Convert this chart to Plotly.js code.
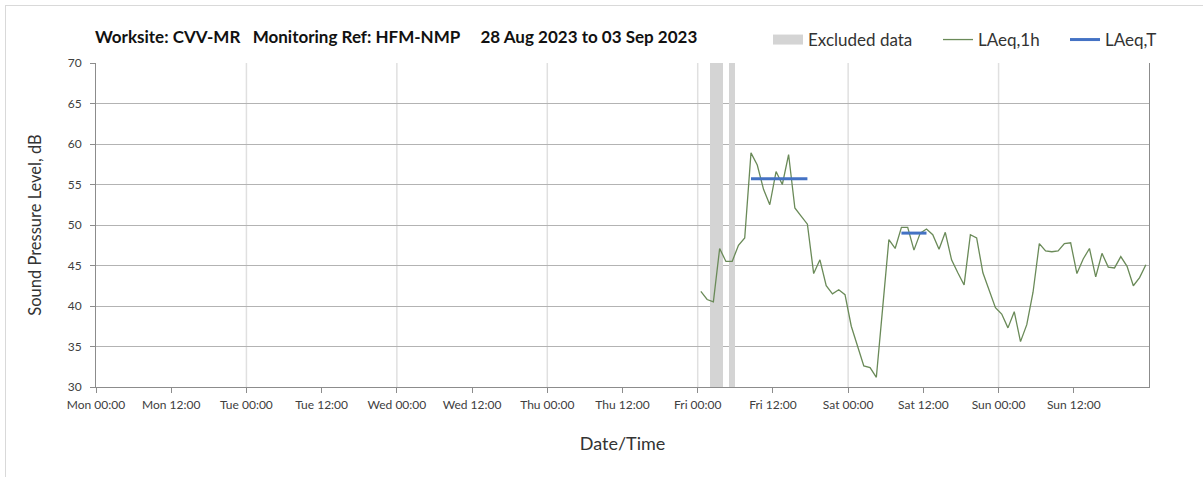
<!DOCTYPE html>
<html>
<head>
<meta charset="utf-8">
<script src="https://cdn.plot.ly/plotly-3.0.1.min.js"></script>
<style>
  html, body { margin: 0; padding: 0; background: #ffffff; overflow: hidden; }
  #frame { position: absolute; left: 5px; top: 5px; width: 1210px; height: 490px; border: 1px solid #d9d9d9; box-sizing: border-box; }
  #chart { position: absolute; left: 0; top: 0; width: 1203px; height: 477px; }
</style>
</head>
<body>
<div id="frame"></div>
<div id="chart"></div>
<script>
// ---- Data ----
const firstHour = "2023-09-01 00:30";   // Fri 00:30, hourly readings
const laeq1h = [
  41.8, 40.8, 40.5, 47.1, 45.5, 45.5, 47.5, 48.4, 58.9, 57.4,
  54.4, 52.5, 56.6, 55.0, 58.7, 52.1, 51.1, 50.1, 44.0, 45.7,
  42.5, 41.5, 42.0, 41.4, 37.5, 35.0, 32.6, 32.4, 31.2, 39.7,
  48.2, 47.1, 49.7, 49.7, 46.9, 49.0, 49.5, 48.8, 47.0, 49.1,
  45.7, 44.1, 42.6, 48.8, 48.4, 44.1, 42.0, 39.8, 39.0, 37.3,
  39.3, 35.6, 37.7, 41.7, 47.7, 46.8, 46.7, 46.8, 47.7, 47.8,
  44.0, 45.8, 47.1, 43.6, 46.5, 44.8, 44.7, 46.1, 44.9, 42.5,
  43.5, 45.1
];
const laeqTStart = ["2023-09-01 08:30", "2023-09-02 08:30"];
const laeqTEnd   = ["2023-09-01 17:30", "2023-09-02 12:30"];
const laeqTValue = [55.7, 49.0];
const excludedStart = ["2023-09-01 02:00", "2023-09-01 05:00"];
const excludedEnd   = ["2023-09-01 04:00", "2023-09-01 06:00"];
const tickTimes = [
  "2023-08-28 00:00", "2023-08-28 12:00", "2023-08-29 00:00", "2023-08-29 12:00",
  "2023-08-30 00:00", "2023-08-30 12:00", "2023-08-31 00:00", "2023-08-31 12:00",
  "2023-09-01 00:00", "2023-09-01 12:00", "2023-09-02 00:00", "2023-09-02 12:00",
  "2023-09-03 00:00", "2023-09-03 12:00"
];
const tickLabels = [
  "Mon 00:00", "Mon 12:00", "Tue 00:00", "Tue 12:00", "Wed 00:00", "Wed 12:00",
  "Thu 00:00", "Thu 12:00", "Fri 00:00", "Fri 12:00", "Sat 00:00", "Sat 12:00",
  "Sun 00:00", "Sun 12:00"
];
const dayLines = ["2023-08-29 00:00", "2023-08-30 00:00", "2023-08-31 00:00",
  "2023-09-01 00:00", "2023-09-02 00:00", "2023-09-03 00:00"];
const rangeStart = "2023-08-28 00:00";
const rangeEnd = "2023-09-04 00:00";
const yTicks = [30, 35, 40, 45, 50, 55, 60, 65, 70];

// ---- Helpers ----
const ms = s => new Date(s.replace(' ', 'T') + ':00Z').getTime();
const HOUR = 3600 * 1000;
const t0 = ms(firstHour);
const xs1h = laeq1h.map((_, i) => t0 + i * HOUR);

const exX = excludedStart.map((s, i) => (ms(s) + ms(excludedEnd[i])) / 2);
const exW = excludedStart.map((s, i) => ms(excludedEnd[i]) - ms(s));

const tX = [], tY = [];
laeqTStart.forEach((s, i) => {
  tX.push(ms(s), ms(laeqTEnd[i]), null);
  tY.push(laeqTValue[i], laeqTValue[i], null);
});

const FONT = "Lato, 'Open Sans', sans-serif";
const GREY_EX = '#d4d4d4';

const traces = [
  {
    type: 'bar', name: 'Excluded data', showlegend: false,
    x: exX, width: exW, base: excludedStart.map(() => 30), y: excludedStart.map(() => 40),
    marker: { color: GREY_EX, line: { width: 0 } },
    hoverinfo: 'skip'
  },
  {
    // legend entry for the excluded-data bands
    type: 'scatter', mode: 'lines', name: 'Excluded data', legend: 'legend',
    x: [null], y: [null],
    line: { color: GREY_EX, width: 14 }
  },
  {
    type: 'scatter', mode: 'lines', name: 'LAeq,1h', legend: 'legend2',
    x: xs1h, y: laeq1h,
    line: { color: '#6a8a58', width: 1.3 }
  },
  {
    type: 'scatter', mode: 'lines', name: 'LAeq,T', legend: 'legend3',
    x: tX, y: tY, connectgaps: false,
    line: { color: '#4472c4', width: 3 }
  }
];

const legendBase = (px) => ({
  orientation: 'h',
  xref: 'container', x: px / 1203, xanchor: 'left',
  yref: 'container', y: 1 - 40 / 477, yanchor: 'middle',
  font: { family: FONT, size: 17, color: '#333333' },
  bgcolor: 'rgba(0,0,0,0)',
  borderwidth: 0,
  itemwidth: 30
});

const layout = {
  width: 1203, height: 477,
  margin: { l: 96, r: 54, t: 63, b: 90 },
  paper_bgcolor: 'rgba(0,0,0,0)',
  plot_bgcolor: 'rgba(0,0,0,0)',
  font: { family: FONT, color: '#404040' },
  showlegend: true,
  bargap: 0,
  title: {
    text: 'Worksite: CVV-MR &nbsp; Monitoring Ref: HFM-NMP &nbsp; &nbsp; 28 Aug 2023 to 03 Sep 2023',
    font: { family: FONT, size: 17, color: '#111111', weight: 'bold' },
    xref: 'container', x: 95 / 1203, xanchor: 'left',
    yref: 'container', y: 1 - 37 / 477, yanchor: 'middle'
  },
  legend: legendBase(768),
  legend2: legendBase(938),
  legend3: legendBase(1065),
  xaxis: {
    type: 'date',
    range: [ms(rangeStart), ms(rangeEnd)],
    tickmode: 'array',
    tickvals: tickTimes.map(ms),
    ticktext: tickLabels,
    showgrid: false,
    zeroline: false,
    showline: true, linecolor: '#8c8c8c', linewidth: 1,
    ticks: 'outside', ticklen: 5, tickcolor: '#8c8c8c',
    ticklabelstandoff: 2,
    tickfont: { family: FONT, size: 12, color: '#404040' },
    title: { text: 'Date/Time', font: { family: FONT, size: 18, color: '#333333' }, standoff: 25 },
    fixedrange: true
  },
  yaxis: {
    range: [30, 70],
    tickmode: 'array', tickvals: yTicks, ticktext: yTicks.map(String),
    showgrid: true, gridcolor: '#b3b3b3', gridwidth: 1,
    zeroline: false,
    showline: true, linecolor: '#8c8c8c', linewidth: 1, mirror: true,
    ticks: 'outside', ticklen: 5, tickcolor: '#8c8c8c',
    ticklabelstandoff: 6,
    tickfont: { family: FONT, size: 12, color: '#404040' },
    title: { text: 'Sound Pressure Level, dB', font: { family: FONT, size: 16.5, color: '#333333' }, standoff: 21 },
    fixedrange: true
  },
  shapes: dayLines.map(d => ({
    type: 'line', layer: 'below', xref: 'x', yref: 'paper',
    x0: ms(d), x1: ms(d), y0: 0, y1: 1,
    line: { color: '#e0e0e0', width: 1.5 }
  }))
};

Plotly.newPlot('chart', traces, layout, { staticPlot: true, displayModeBar: false });
</script>
</body>
</html>
